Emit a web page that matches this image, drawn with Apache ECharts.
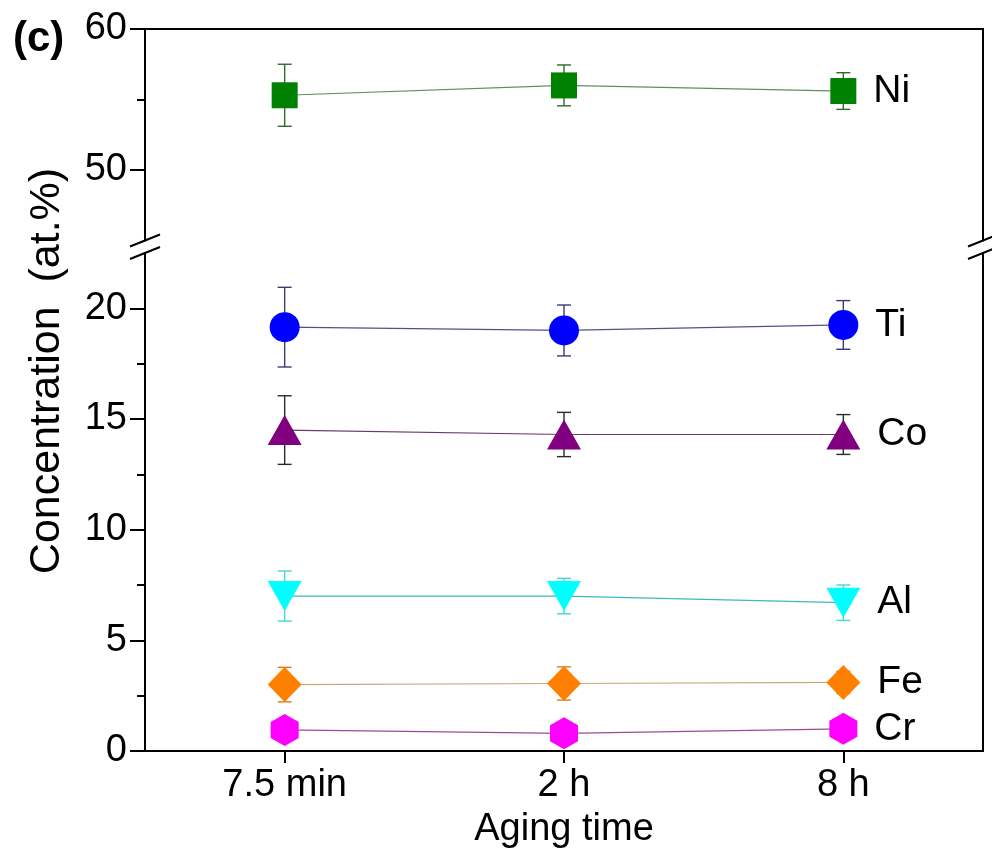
<!DOCTYPE html>
<html>
<head>
<meta charset="utf-8">
<script src="https://cdn.jsdelivr.net/npm/echarts@6/dist/echarts.min.js"></script>
<style>
  html, body { margin: 0; padding: 0; background: #fff; }
  #chart { width: 992px; height: 853px; }
</style>
</head>
<body>
<div id="chart"></div>
<script>
// Aging time categories
const categories = ['7.5 min', '2 h', '8 h'];

// Concentrations (at.%) and their error half-widths
const niValues = [55.3, 56.0, 55.6];
const niErrors = [2.2, 1.45, 1.3];
const tiValues = [19.15, 19.0, 19.25];
const tiErrors = [1.8, 1.15, 1.1];
const coValues = [14.5, 14.3, 14.3];
const coErrors = [1.55, 1.0, 0.9];
const alValues = [7.0, 7.0, 6.7];
const alErrors = [1.13, 0.8, 0.8];
const feValues = [3.0, 3.05, 3.1];
const feErrors = [0.78, 0.75, 0.5];
const crValues = [0.95, 0.8, 1.0];
const crErrors = [0.3, 0.3, 0.3];

// Tick values for the broken y axis
const upperMajorTicks = [50, 60];
const upperMinorTicks = [55];
const lowerMajorTicks = [0, 5, 10, 15, 20];
const lowerMinorTicks = [2.5, 7.5, 12.5, 17.5];

const FONT = '"Liberation Sans", Arial, Helvetica, sans-serif';
const FS = 38;        // tick labels and axis name
const FS_ELEM = 39;   // element labels
const GRID_LEFT = 145, GRID_RIGHT = 9;
const UPPER_TOP = 29, UPPER_HEIGHT = 211.5;
const LOWER_TOP = 253, LOWER_BOTTOM = 102;

const chart = echarts.init(document.getElementById('chart'), null, { renderer: 'canvas' });

function errorBarSeries(name, values, errors, color, xIdx, yIdx) {
  return {
    name: name + ' error',
    type: 'custom',
    xAxisIndex: xIdx,
    yAxisIndex: yIdx,
    z: 1,
    silent: true,
    data: values.map((v, i) => [i, v - errors[i], v + errors[i]]),
    encode: { x: 0, y: [1, 2] },
    renderItem(params, api) {
      const lo = api.coord([api.value(0), api.value(1)]);
      const hi = api.coord([api.value(0), api.value(2)]);
      const hw = 7;
      const style = { stroke: color, lineWidth: 1.4 };
      return {
        type: 'group',
        children: [
          { type: 'line', shape: { x1: lo[0], y1: lo[1], x2: hi[0], y2: hi[1] }, style },
          { type: 'line', shape: { x1: lo[0] - hw, y1: lo[1], x2: lo[0] + hw, y2: lo[1] }, style },
          { type: 'line', shape: { x1: hi[0] - hw, y1: hi[1], x2: hi[0] + hw, y2: hi[1] }, style }
        ]
      };
    }
  };
}

function lineSeries(name, values, markerColor, lineColor, symbol, size, rotate, xIdx, yIdx) {
  return {
    name: name,
    type: 'line',
    xAxisIndex: xIdx,
    yAxisIndex: yIdx,
    z: 3,
    symbol: symbol,
    symbolSize: size,
    symbolRotate: rotate,
    showAllSymbol: true,
    clip: false,
    lineStyle: { color: lineColor, width: 1.2 },
    itemStyle: { color: markerColor, opacity: 1 },
    label: { show: false },
    emphasis: { disabled: true },
    data: values.map((v, i) => i === values.length - 1 ? {
      value: v,
      label: {
        show: true, position: 'right', distance: 17,
        formatter: name, color: '#000', fontSize: FS_ELEM, fontFamily: FONT
      }
    } : v)
  };
}

const hexagon = 'path://M0,-1 L0.866,-0.5 L0.866,0.5 L0,1 L-0.866,0.5 L-0.866,-0.5 Z';

const axisLineStyle = { show: true, onZero: false, lineStyle: { color: '#000', width: 2 } };
const tickLabelStyle = { color: '#000', fontSize: FS, fontFamily: FONT };

const option = {
  animation: false,
  backgroundColor: '#fff',
  grid: [
    { left: GRID_LEFT, right: GRID_RIGHT, top: UPPER_TOP, height: UPPER_HEIGHT, outerBoundsMode: 'none', containLabel: false },
    { left: GRID_LEFT, right: GRID_RIGHT, top: LOWER_TOP, bottom: LOWER_BOTTOM, outerBoundsMode: 'none', containLabel: false }
  ],
  xAxis: [
    {
      type: 'category', gridIndex: 0, data: categories, position: 'top',
      axisLine: axisLineStyle, axisTick: { show: false }, axisLabel: { show: false },
      splitLine: { show: false }
    },
    {
      type: 'category', gridIndex: 1, data: categories, position: 'bottom',
      axisLine: axisLineStyle,
      axisTick: { show: true, alignWithLabel: true, length: 12, lineStyle: { color: '#000', width: 2 } },
      axisLabel: { ...tickLabelStyle, margin: 16 },
      splitLine: { show: false },
      name: 'Aging time', nameLocation: 'middle', nameGap: 60,
      nameTextStyle: { color: '#000', fontSize: FS, fontFamily: FONT }
    }
  ],
  yAxis: [
    // upper segment, major ticks and labels
    {
      type: 'value', gridIndex: 0, position: 'left', min: 45, max: 60,
      axisLine: axisLineStyle,
      axisTick: { show: true, length: 15, customValues: upperMajorTicks, lineStyle: { color: '#000', width: 2 } },
      axisLabel: { ...tickLabelStyle, margin: 18, customValues: upperMajorTicks },
      splitLine: { show: false }
    },
    // upper segment, minor ticks
    {
      type: 'value', gridIndex: 0, position: 'left', min: 45, max: 60,
      axisLine: { show: false },
      axisTick: { show: true, length: 8, customValues: upperMinorTicks, lineStyle: { color: '#000', width: 2 } },
      axisLabel: { show: false }, splitLine: { show: false }
    },
    // upper segment, right frame
    {
      type: 'value', gridIndex: 0, position: 'right', min: 45, max: 60,
      axisLine: axisLineStyle, axisTick: { show: false }, axisLabel: { show: false }, splitLine: { show: false }
    },
    // lower segment, major ticks and labels
    {
      type: 'value', gridIndex: 1, position: 'left', min: 0, max: 22.5,
      axisLine: axisLineStyle,
      axisTick: { show: true, length: 15, customValues: lowerMajorTicks, lineStyle: { color: '#000', width: 2 } },
      axisLabel: { ...tickLabelStyle, margin: 18, customValues: lowerMajorTicks },
      splitLine: { show: false }
    },
    // lower segment, minor ticks
    {
      type: 'value', gridIndex: 1, position: 'left', min: 0, max: 22.5,
      axisLine: { show: false },
      axisTick: { show: true, length: 8, customValues: lowerMinorTicks, lineStyle: { color: '#000', width: 2 } },
      axisLabel: { show: false }, splitLine: { show: false }
    },
    // lower segment, right frame
    {
      type: 'value', gridIndex: 1, position: 'right', min: 0, max: 22.5,
      axisLine: axisLineStyle, axisTick: { show: false }, axisLabel: { show: false }, splitLine: { show: false }
    }
  ],
  series: [
    errorBarSeries('Ni', niValues, niErrors, '#2f6a2f', 0, 0),
    errorBarSeries('Ti', tiValues, tiErrors, '#3a3a78', 1, 3),
    errorBarSeries('Co', coValues, coErrors, '#2a2a2a', 1, 3),
    errorBarSeries('Al', alValues, alErrors, '#40d8d8', 1, 3),
    errorBarSeries('Fe', feValues, feErrors, '#e07a10', 1, 3),
    errorBarSeries('Cr', crValues, crErrors, '#e020e0', 1, 3),
    lineSeries('Ni', niValues, '#008000', '#5f8f5f', 'rect', 26, 0, 0, 0),
    lineSeries('Ti', tiValues, '#0000ff', '#50508a', 'circle', 30, 0, 1, 3),
    lineSeries('Co', coValues, '#800080', '#6a3a6a', 'triangle', [34, 30], 0, 1, 3),
    lineSeries('Al', alValues, '#00ffff', '#40b8b8', 'triangle', [34, 30], 180, 1, 3),
    lineSeries('Fe', feValues, '#ff8000', '#c8a878', 'diamond', [34, 35], 0, 1, 3),
    lineSeries('Cr', crValues, '#ff00ff', '#9a4a9a', hexagon, [28, 32], 0, 1, 3)
  ]
};

chart.setOption(option);

// Axis break marks, y-axis title and panel tag
function drawExtras() {
  const xLeft = GRID_LEFT;
  const xRight = 992 - GRID_RIGHT;
  const yUpperEnd = chart.convertToPixel({ yAxisIndex: 0 }, 45);
  const yLowerEnd = chart.convertToPixel({ yAxisIndex: 3 }, 22.5);
  const slash = (x, y) => ({
    type: 'line', z: 50,
    shape: { x1: x - 15, y1: y + 6, x2: x + 15, y2: y - 6 },
    style: { stroke: '#000', lineWidth: 2 }
  });
  chart.setOption({
    graphic: [
      slash(xLeft, yUpperEnd), slash(xLeft, yLowerEnd),
      slash(xRight, yUpperEnd), slash(xRight, yLowerEnd),
      {
        type: 'text', x: 47, y: 371, rotation: Math.PI / 2, z: 50,
        style: {
          text: 'Concentration  (at.%)', fill: '#000', fontSize: 43, fontFamily: FONT,
          align: 'center', verticalAlign: 'middle'
        }
      },
      {
        type: 'text', x: 13, y: 39, z: 50,
        style: {
          text: '(c)', fill: '#000', fontSize: 42, fontWeight: 'bold', fontFamily: FONT,
          align: 'left', verticalAlign: 'middle'
        }
      }
    ]
  });
}
drawExtras();
</script>
</body>
</html>
